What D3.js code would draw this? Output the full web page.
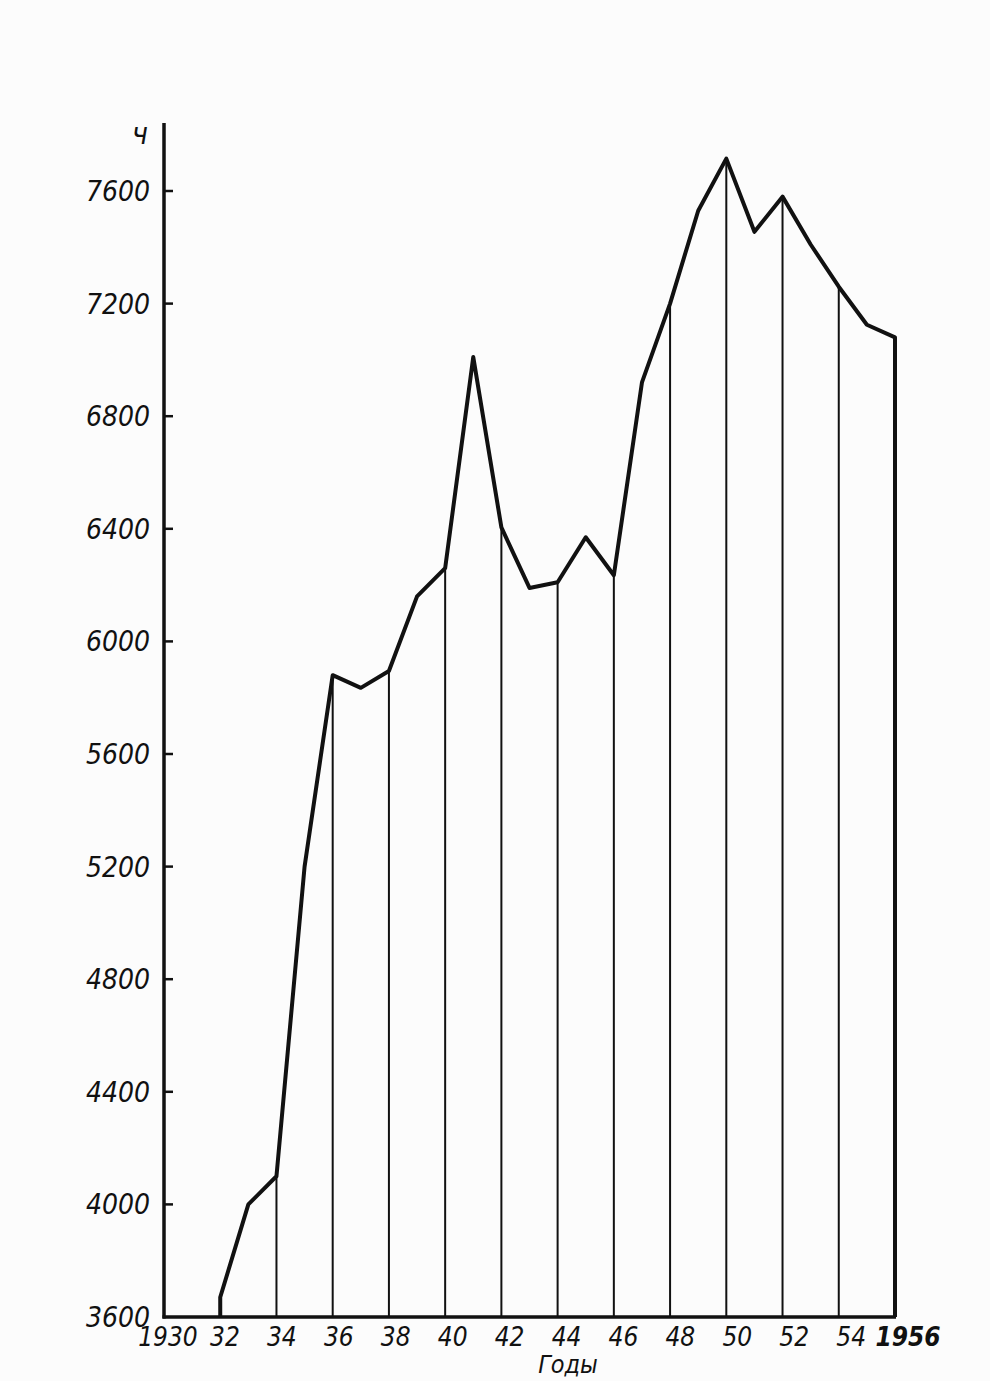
<!DOCTYPE html>
<html lang="ru">
<head>
    <meta charset="UTF-8">
    <title>Годы</title>
    <script src="https://d3js.org/d3.v7.min.js"></script>
    <style>
        body { margin: 0; background: #fcfcfc; }
        text { font-family: "DejaVu Sans Condensed", "DejaVu Sans", sans-serif; font-style: italic; fill: #111; }
    </style>
</head>
<body>
    <div id="chart"></div>
    <script>
        // values
        const years = [1932, 1933, 1934, 1935, 1936, 1937, 1938, 1939, 1940, 1941, 1942, 1943, 1944,
                       1945, 1946, 1947, 1948, 1949, 1950, 1951, 1952, 1953, 1954, 1955, 1956];
        const values = [3670, 4000, 4100, 5200, 5880, 5835, 5895, 6160, 6260, 7010, 6405, 6190, 6210,
                        6370, 6235, 6920, 7200, 7530, 7715, 7455, 7580, 7410, 7260, 7125, 7080];
        const yTicks = [3600, 4000, 4400, 4800, 5200, 5600, 6000, 6400, 6800, 7200, 7600];
        const xTickYears = [1930, 1932, 1934, 1936, 1938, 1940, 1942, 1944, 1946, 1948, 1950, 1952, 1954, 1956];
        const xTickLabels = ["1930", "32", "34", "36", "38", "40", "42", "44", "46", "48", "50", "52", "54", "1956"];
        const yUnit = "ч";
        const xTitle = "Годы";

        const width = 990;
        const height = 1381;

        const svg = d3.select("#chart").append("svg")
            .attr("width", width)
            .attr("height", height);

        const x = d3.scaleLinear().domain([1930, 1956]).range([164, 895]);
        const y = d3.scaleLinear().domain([3600, 7600]).range([1317, 191]);

        const data = years.map((yr, i) => ({ year: yr, value: values[i] }));
        const byYear = new Map(data.map(d => [d.year, d.value]));

        // thin verticals at even years
        const inner = xTickYears.filter(yr => yr > 1932 && yr < 1956);
        svg.append("g")
            .selectAll("line")
            .data(inner)
            .enter().append("line")
            .attr("x1", d => x(d))
            .attr("x2", d => x(d))
            .attr("y1", d => y(byYear.get(d)))
            .attr("y2", y(3600))
            .attr("stroke", "#111")
            .attr("stroke-width", 2);

        // axes
        svg.append("line")
            .attr("x1", x(1930)).attr("x2", x(1930))
            .attr("y1", 123).attr("y2", y(3600) + 1.5)
            .attr("stroke", "#111").attr("stroke-width", 3.5);
        svg.append("line")
            .attr("x1", x(1930) - 1.5).attr("x2", x(1956) + 1)
            .attr("y1", y(3600)).attr("y2", y(3600))
            .attr("stroke", "#111").attr("stroke-width", 3.5);

        // y ticks inward
        svg.append("g")
            .selectAll("line")
            .data(yTicks.filter(v => v > 3600))
            .enter().append("line")
            .attr("x1", x(1930))
            .attr("x2", x(1930) + 9)
            .attr("y1", d => y(d))
            .attr("y2", d => y(d))
            .attr("stroke", "#111")
            .attr("stroke-width", 2.5);

        svg.append("g")
            .selectAll("text")
            .data(yTicks)
            .enter().append("text")
            .attr("x", 150)
            .attr("y", d => y(d) + 10)
            .attr("text-anchor", "end")
            .attr("font-size", 28)
            .text(d => d);

        svg.append("text")
            .attr("x", 148)
            .attr("y", 144)
            .attr("text-anchor", "end")
            .attr("font-size", 30)
            .text(yUnit);

        // x labels (sit a little to the right of the lines, as drawn)
        svg.append("g")
            .selectAll("text")
            .data(xTickYears)
            .enter().append("text")
            .attr("x", d => x(d) + 4 + (d - 1930) * 0.35)
            .attr("y", 1346)
            .attr("text-anchor", "middle")
            .attr("font-size", 26)
            .attr("font-weight", d => d === 1956 ? "bold" : "normal")
            .text((d, i) => xTickLabels[i]);

        svg.append("text")
            .attr("x", 568)
            .attr("y", 1373)
            .attr("text-anchor", "middle")
            .attr("font-size", 25)
            .text(xTitle);

        // main curve, closed down to the base at both ends
        const pts = [{ year: 1932, value: 3600 }, ...data, { year: 1956, value: 3600 }];
        const line = d3.line()
            .x(d => x(d.year))
            .y(d => y(d.value));

        svg.append("path")
            .datum(pts)
            .attr("d", line)
            .attr("fill", "none")
            .attr("stroke", "#111")
            .attr("stroke-width", 4)
            .attr("stroke-linejoin", "round");
    </script>
</body>
</html>
